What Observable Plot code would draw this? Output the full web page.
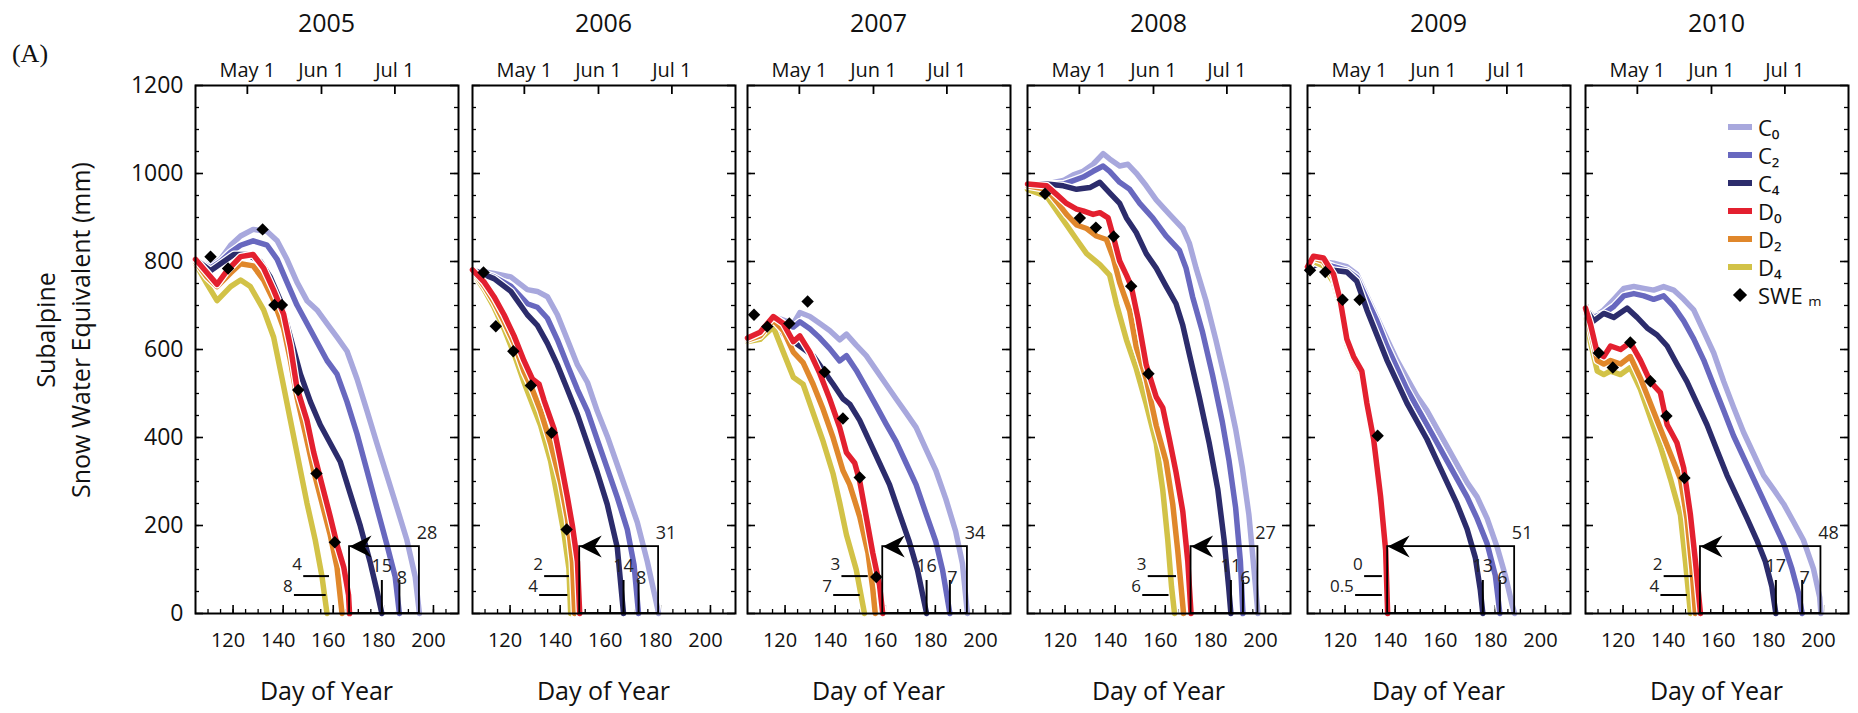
<!DOCTYPE html>
<html><head><meta charset="utf-8">
<script src="https://cdn.jsdelivr.net/npm/d3@7"></script>
<script src="https://cdn.jsdelivr.net/npm/@observablehq/plot@0.6"></script>
<style>
body{margin:0;background:#fff;}
#root{position:relative;width:1858px;height:713px;overflow:hidden;font-family:"Open Sans",sans-serif;color:#111;}
.abs{position:absolute;white-space:nowrap;transform:translate(-50%,-50%);line-height:1;}
.panel{position:absolute;}
.lg{position:absolute;white-space:nowrap;line-height:22px;height:22px;font-size:22px;font-family:"Open Sans","DejaVu Sans",sans-serif;}
</style></head><body><div id="root"></div>
<script>
// ---------------- DATA ----------------
const years = [2005, 2006, 2007, 2008, 2009, 2010];
const seriesNames = ["C₀", "C₂", "C₄", "D₀", "D₂", "D₄"];
const seriesColors = ["#a8a8dd", "#6868bf", "#2c2c6c", "#e3202f", "#e0872b", "#d2c247"];
const drawOrder = [0, 1, 2, 5, 4, 3];
const yTickValues = [0, 200, 400, 600, 800, 1000, 1200];
const xTickValues = [120, 140, 160, 180, 200];
const monthTickDoy = [125.7, 155.3, 184.6];
const monthTickLabels = ["May 1", "Jun 1", "Jul 1"];

// flat [doy, swe, doy, swe, ...]
const C0_2005 = [105,805,111,790,115,805,119,837,123,858,128,873,133.6,868,137.6,847,141.5,805,145.5,753,149.5,711,153.5,690,157.5,659,161.5,628,165.5,596,169.5,533,173.5,460,177.4,387,181.4,314,185.4,241,189.4,167,192.7,84,194.4,0];
const C2_2005 = [105,805,111,785,115,800,119,821,123,837,128,847,133.6,837,137.6,805,141.5,753,145.5,701,149.5,659,153.5,617,157.5,575,161.5,544,165.5,481,169.5,408,173.5,324,177.4,241,181.4,157,184.7,84,186.4,0];
const C4_2005 = [105,805,111,779,115,795,120.3,816,125.6,816,130.9,800,134.9,764,138.9,711,142.9,628,146.9,544,150.9,481,154.8,429,158.8,387,162.8,345,166.8,272,170.8,199,174.8,115,177.5,50,179.4,0];
const D0_2005 = [105,805,109.7,774,113.6,748,117.6,779,123,811,128,816,132.2,785,136.2,735,140.2,680,142.9,607,145.5,513,149.5,439,152.2,366,155.5,293,158.8,220,161.5,157,164.2,105,166.1,42,166.5,0];
const D2_2005 = [105,800,109.7,764,113.6,743,119,774,123,795,128,790,132.2,758,136.2,711,140.2,648,142.9,575,145.5,492,148.9,408,152.2,324,155.5,251,158.8,178,161.5,105,163.5,0];
const D4_2005 = [105,795,109.7,748,113.6,711,119,743,123,758,126.9,743,132.2,690,136.2,628,139.6,533,142.9,439,146.2,345,149.5,251,152.8,167,155.5,84,157.5,0];
const SWEm_2005 = [111,811,118,784,131.8,873,136.5,701,139.5,701,146,508,153.3,318,160.6,162];

const C0_2006 = [105,781,113.6,773,120.3,765,126.9,736,130.9,732,134.9,720,138.9,679,142.9,622,146.9,565,150.9,525,154.8,460,158.8,403,162.8,338,166.8,273,170.8,207,174.8,118,178,35,179.3,0];
const C2_2006 = [105,781,113.6,765,120.3,744,126.9,704,130.9,696,134.9,671,138.9,622,142.9,565,146.9,509,150.9,460,154.8,395,158.8,330,162.8,264,166.8,191,169.5,110,171.3,0];
const C4_2006 = [105,781,113.6,761,120.3,732,126.9,679,130.9,655,134.9,614,138.9,565,142.9,509,146.9,452,150.9,386,154.8,321,158.8,248,162.8,150,165.3,0];
const D0_2006 = [105,781,109.7,753,113.6,720,117.6,679,121.6,631,125.6,574,128.9,533,131.6,521,133.6,484,137.6,419,140.2,346,142.9,264,144.9,199,146.9,118,147.8,0];
const D2_2006 = [105,781,109.7,744,113.6,708,117.6,663,121.6,614,125.6,549,128.9,509,132.2,460,136.2,386,140.2,297,142.9,216,144.9,118,145.8,0];
const D4_2006 = [105,777,109.7,736,113.6,696,117.6,647,121.6,590,125.6,525,128.9,476,132.2,427,136.2,346,138.9,264,141.5,183,143.5,102,144.2,0];
const SWEm_2006 = [109.4,775,114.3,653,121.3,596,128.3,518,136.6,411,142.6,191];

const C0_2007 = [105,626,110,631,115.3,675,119.3,667,123.3,659,125.9,684,129.9,675,133.9,659,137.8,643,141.8,622,144.5,635,148.4,610,152.4,586,156.4,553,160.3,521,164.3,488,168.3,456,172.3,423,176.2,374,180.2,325,184.2,260,188.1,187,190.8,114,192.8,0];
const C2_2007 = [105,626,110,631,115.3,675,119.3,659,123.3,651,125.9,663,129.9,647,133.9,626,137.8,602,141.8,574,144.5,586,148.4,553,152.4,513,156.4,472,160.3,431,164.3,391,168.3,342,172.3,293,176.2,228,180.2,163,182.9,98,185.8,0];
const C4_2007 = [105,626,110,631,115.3,675,119.3,635,123.3,618,127.2,602,131.2,586,135.2,553,139.2,521,143.1,488,145.8,476,149.8,439,153.7,391,157.7,342,161.7,293,165.6,228,169.6,163,172.9,98,176.5,0];
const D0_2007 = [105,626,110,639,115.3,675,119.3,659,123.3,618,125.9,631,129.9,594,133.9,545,137.8,488,141.8,423,144.5,366,147.8,342,149.8,301,152.4,220,155,138,157.7,65,159,0];
const D2_2007 = [105,622,110,631,115.3,667,119.3,643,123.3,594,127.2,570,131.2,521,135.2,464,139.2,399,143.1,325,145.8,293,149.8,220,153.1,138,155,57,156,0];
const D4_2007 = [105,618,110,623,115.3,651,119.3,594,123.3,537,127.2,521,131.2,456,135.2,391,139.2,317,141.8,252,144.5,179,148.4,100,151.7,0];
const SWEm_2007 = [107.6,679,112.9,652,121.7,659,129,709,135.8,549,143.1,443,149.8,309,156.4,83];

const C0_2008 = [105,976,112.7,976,119.3,984,123.3,997,127.2,1005,131.2,1021,135.2,1045,137.8,1033,141.8,1017,145.1,1021,148.4,1001,152.4,972,156.4,940,161.7,907,167,875,169.6,842,172.3,785,176.2,712,180.2,622,184.2,525,188.1,419,190.8,330,193.4,224,195.4,102,197,0];
const C2_2008 = [105,976,112.7,976,119.3,976,123.3,984,127.2,992,131.2,1005,135.2,1017,137.8,1005,141.8,980,145.8,964,149.8,932,155,899,160.3,858,165.6,826,168.3,785,170.9,720,174.9,639,178.9,541,182.8,435,185.5,346,188.1,240,190,118,191,0];
const C4_2008 = [105,976,112.7,976,119.3,972,124.6,964,129.9,968,133.9,980,137.8,956,141.8,932,144.5,899,148.4,866,152.4,818,156.4,785,160.3,744,164.3,704,167,655,169.6,590,173.6,492,177.6,386,181,281,183.5,167,185.3,61,186.2,0];
const D0_2008 = [105,976,112.7,972,116.7,952,120.6,932,124.6,919,127.2,915,131.2,907,133.9,911,137.2,899,139.2,858,141.8,801,144.5,769,146.4,744,149.1,671,152.4,565,156.4,492,159,468,161.7,395,164.3,321,167,232,169,118,170.3,0];
const D2_2008 = [105,972,112.7,964,116.7,936,120.6,907,124.6,883,128.6,875,132.5,858,136.5,850,139.2,809,141.8,752,145.8,688,148.4,606,152.4,533,156.4,427,160.3,346,163,248,165,142,167.3,0];
const D4_2008 = [105,964,112.7,948,116.7,915,120.6,883,124.6,850,128.6,818,133.9,793,137.8,769,140.5,704,144.5,622,148.4,557,152.4,476,156.4,386,159,281,161,167,162.5,61,163.7,0];
const SWEm_2008 = [112,954,125.9,899,132.3,877,139.4,857,146.4,744,153.3,545];

const C0_2009 = [105,784,110,800,115.4,796,120.7,788,124.7,771,128.7,722,132.7,673,136.7,624,140.7,576,144.7,535,148.7,494,152.7,461,156.7,420,160.7,380,164.7,339,168.7,298,172.7,265,176.7,216,180.7,151,184,86,186.7,20,187.7,0];
const C2_2009 = [105,784,110,800,115.4,788,120.7,780,124.7,763,128.7,714,132.7,665,136.7,608,140.7,559,144.7,510,148.7,469,152.7,429,156.7,388,160.7,347,164.7,306,168.7,265,172.7,216,176.7,159,180,86,181.8,0];
const C4_2009 = [105,784,110,796,115.4,780,120.7,776,124.7,755,128.7,690,132.7,633,136.7,576,140.7,527,144.7,478,148.7,437,152.7,396,156.7,347,160.7,298,164.7,249,168.7,192,172,127,174,53,175,0];
const D0_2009 = [105,788,107.4,812,111.4,808,115.4,771,118,714,120.7,624,123.4,584,126.7,551,128.7,478,131.4,396,134.2,265,136.2,143,137,0];
const D2_2009 = [105,786,107.4,808,111.4,800,115.4,763,118,706,120.7,620,123.4,580,126.7,547,128.7,474,131.4,392,134.2,260,136.2,140,137,0];
const D4_2009 = [105,784,107.4,800,111.4,790,115.4,752,118,700,120.7,612,123.4,575,126.7,541,128.7,470,131.4,388,134.2,255,136,140,136.8,0];
const SWEm_2009 = [106,780,112.1,776,119,713,125.8,713,133,404];

const C0_2010 = [105,694,108.3,673,112.3,690,116.3,714,120.3,739,124.3,743,128.3,739,132.2,735,136.2,743,140.2,735,144.2,714,148.2,690,152.2,641,156.2,592,160.2,527,164.1,469,168.1,412,172.1,363,176.1,314,180.1,282,184.1,249,188.1,208,192,167,196,102,198.5,37,199,0];
const C2_2010 = [105,694,108.3,673,112.3,682,116.3,698,120.3,722,124.3,727,128.3,722,132.2,714,136.2,722,140.2,698,144.2,665,148.2,624,152.2,576,156.2,518,160.2,461,164.1,404,168.1,355,172.1,306,176.1,257,180.1,208,184.1,159,187.4,102,190.1,45,191.5,0];
const C4_2010 = [105,694,108.3,665,112.3,682,116.3,673,121.6,694,125.6,673,129.6,649,133.6,633,137.6,608,141.5,567,145.5,527,149.5,478,153.5,429,157.5,371,161.5,314,165.5,265,169.5,216,173.4,167,176.8,118,179.4,61,181,0];
const D0_2010 = [105,694,107,657,109.7,592,112.3,584,115,608,119,600,122.9,616,126.9,576,130.9,527,134.9,502,137.6,429,141.5,388,144.2,331,146.9,224,148.9,118,150.9,0];
const D2_2010 = [105,690,107,641,109.7,575,112.3,567,115,575,119,567,122.9,584,126.9,535,130.9,478,134.9,420,138.9,363,142.9,306,145.5,216,147.5,102,148.9,0];
const D4_2010 = [105,682,107,616,109.7,551,112.3,543,115,551,119,543,122.9,559,126.9,510,130.9,445,134.9,380,138.9,306,142.9,224,144.9,118,146.9,0];
const SWEm_2010 = [110.3,592,115.9,559,122.9,616,130.9,528,137.3,449,144.5,308];

// annotation values (day of year)
const meltD0 = [166.5, 147.8, 159, 170.3, 137, 150.9];
const meltC0 = [194.4, 179.3, 192.8, 197, 187.7, 199];
const meltC4 = [179.4, 165.3, 176.5, 186.2, 175, 181];
const meltC2 = [186.4, 171.3, 185.8, 191, 181.8, 191.5];
const boxLabels = ["28", "31", "34", "27", "51", "48"];
const c4Labels = ["15", "14", "16", "11", "13", "17"];
const c2Labels = ["8", "8", "7", "6", "6", "7"];
const barLabelsTop = ["4", "2", "3", "3", "0", "2"];
const barLabelsLow = ["8", "4", "7", "6", "0.5", "4"];
const barTopStart = [148, 133.6, 142.5, 153, 127.6, 136.2];
const barTopEnd = [158.3, 143.5, 153, 164.3, 134.7, 147.5];
const barLowStart = [144.3, 131.6, 139.2, 150.8, 124, 134.9];
const barLowEnd = [157, 142.9, 149.8, 161.3, 134.7, 145.5];

// ---------------- BUILD ----------------
const seriesByYear = [
  [C0_2005, C2_2005, C4_2005, D0_2005, D2_2005, D4_2005],
  [C0_2006, C2_2006, C4_2006, D0_2006, D2_2006, D4_2006],
  [C0_2007, C2_2007, C4_2007, D0_2007, D2_2007, D4_2007],
  [C0_2008, C2_2008, C4_2008, D0_2008, D2_2008, D4_2008],
  [C0_2009, C2_2009, C4_2009, D0_2009, D2_2009, D4_2009],
  [C0_2010, C2_2010, C4_2010, D0_2010, D2_2010, D4_2010]
];
const sweByYear = [SWEm_2005, SWEm_2006, SWEm_2007, SWEm_2008, SWEm_2009, SWEm_2010];
const pairs = (flat) => { const out = []; for (let k = 0; k < flat.length; k += 2) out.push({doy: flat[k], swe: flat[k + 1]}); return out; };

const W = 263, H = 528;
const frameLefts = [195, 472, 747, 1027, 1307, 1585];
const frameTop = 85;
const root = document.getElementById("root");

const yMinor = d3.range(50, 1200, 50);
const xMinor = d3.range(110, 210, 5);
const monthMap = new Map(monthTickDoy.map((d, i) => [d, monthTickLabels[i]]));

const arrowSym = {draw(ctx) { ctx.moveTo(0, 0); ctx.lineTo(22, -11); ctx.lineTo(15, 0); ctx.lineTo(22, 11); ctx.closePath(); }};

function addText(txt, x, y, style) {
  const d = document.createElement("div");
  d.className = "abs";
  d.style.left = x + "px"; d.style.top = y + "px";
  Object.assign(d.style, style || {});
  d.textContent = txt;
  root.appendChild(d);
  return d;
}

years.forEach((yr, i) => {
  const ml = i === 0 ? 120 : 8, mr = 8, mt = 50, mb = 50;
  const marks = [];
  // inner frame ticks
  marks.push(Plot.tickY(yMinor, {y: d => d, insetRight: W - 4, stroke: "#000", strokeWidth: 1.3}));
  marks.push(Plot.tickY(yMinor, {y: d => d, insetLeft: W - 4, stroke: "#000", strokeWidth: 1.3}));
  marks.push(Plot.tickY(yTickValues, {y: d => d, insetRight: W - 8, stroke: "#000", strokeWidth: 1.6}));
  marks.push(Plot.tickY(yTickValues, {y: d => d, insetLeft: W - 8, stroke: "#000", strokeWidth: 1.6}));
  marks.push(Plot.tickX(xMinor, {x: d => d, insetTop: H - 4, stroke: "#000", strokeWidth: 1.3}));
  marks.push(Plot.tickX(xTickValues, {x: d => d, insetTop: H - 8, stroke: "#000", strokeWidth: 1.6}));
  marks.push(Plot.tickX(monthTickDoy, {x: d => d, insetBottom: H - 9, stroke: "#000", strokeWidth: 1.8}));
  // series with white halo (D0 drawn last, on top)
  drawOrder.forEach(s => {
    const data = pairs(seriesByYear[i][s]);
    marks.push(Plot.line(data, {x: "doy", y: "swe", stroke: "#fff", strokeWidth: 8, strokeLinejoin: "round"}));
    marks.push(Plot.line(data, {x: "doy", y: "swe", stroke: seriesColors[s], strokeWidth: 5.5, strokeLinejoin: "round"}));
  });
  // measured SWE
  marks.push(Plot.dot(pairs(sweByYear[i]), {x: "doy", y: "swe", symbol: "diamond2", r: 5.6, fill: "#000", stroke: "none"}));
  // annotations
  const boxTop = 152;
  marks.push(Plot.rect([{a: meltD0[i], b: meltC0[i]}], {x1: "a", x2: "b", y1: 0, y2: boxTop, fill: "none", stroke: "#000", strokeWidth: 1.8}));
  marks.push(Plot.dot([{x: meltD0[i], y: boxTop}], {x: "x", y: "y", symbol: arrowSym, r: 5, fill: "#000", stroke: "none"}));
  marks.push(Plot.ruleX([meltC4[i], meltC2[i]], {x: d => d, y1: 0, y2: 75, stroke: "#000", strokeWidth: 2}));
  marks.push(Plot.link([
      {a: barTopStart[i], b: barTopEnd[i], y: 85},
      {a: barLowStart[i], b: barLowEnd[i], y: 42}
    ], {x1: "a", x2: "b", y1: "y", y2: "y", stroke: "#000", strokeWidth: 2}));
  const txt = [
    {x: meltC0[i] + 3, y: 183, t: boxLabels[i], a: "middle"},
    {x: meltC4[i], y: 108, t: c4Labels[i], a: "middle"},
    {x: meltC2[i] + 1, y: 80, t: c2Labels[i], a: "middle"},
    {x: barTopStart[i] - 0.5, y: 112, t: barLabelsTop[i], a: "end"},
    {x: barLowStart[i] - 0.5, y: 62, t: barLabelsLow[i], a: "end"}
  ];
  marks.push(Plot.text(txt.filter(d => d.a === "middle"), {x: "x", y: "y", text: "t", fontSize: 18, fill: "#222", textAnchor: "middle"}));
  marks.push(Plot.text(txt.filter(d => d.a === "end"), {x: "x", y: "y", text: "t", fontSize: 17, fill: "#222", textAnchor: "end"}));
  // axes
  marks.push(Plot.axisX({anchor: "bottom", ticks: xTickValues, tickSize: 0, tickPadding: 19, fontSize: 20, dx: -5, label: null, tickFormat: d => String(d)}));
  marks.push(Plot.axisX({anchor: "top", ticks: monthTickDoy, tickSize: 0, tickPadding: 9, fontSize: 20, label: null, tickFormat: d => monthMap.get(d)}));
  if (i === 0) marks.push(Plot.axisY({anchor: "left", ticks: yTickValues, tickSize: 0, tickPadding: 12, fontSize: 23, label: null, tickFormat: d => String(d)}));
  marks.push(Plot.frame({stroke: "#000", strokeWidth: 2}));

  const chart = Plot.plot({
    width: ml + W + mr, height: mt + H + mb,
    marginLeft: ml, marginRight: mr, marginTop: mt, marginBottom: mb,
    x: {domain: [105, 210], axis: null},
    y: {domain: [0, 1200], axis: null},
    style: {background: "transparent", fontFamily: "'Open Sans', sans-serif", color: "#111", overflow: "visible"},
    marks
  });
  const wrap = document.createElement("div");
  wrap.className = "panel";
  wrap.style.left = (frameLefts[i] - ml) + "px";
  wrap.style.top = (frameTop - mt) + "px";
  wrap.appendChild(chart);
  root.appendChild(wrap);

  // panel titles
  addText(String(yr), frameLefts[i] + W / 2, 22, {fontSize: "25px"});
  addText("Day of Year", frameLefts[i] + W / 2, 690, {fontSize: "25px"});
});

addText("(A)", 30, 54, {fontSize: "26px", fontFamily: "'Liberation Serif', serif"});
addText("Subalpine", 45, 330, {fontSize: "25px", transform: "translate(-50%,-50%) rotate(-90deg)"});
addText("Snow Water Equivalent (mm)", 80, 330, {fontSize: "25px", transform: "translate(-50%,-50%) rotate(-90deg)"});

// legend (inside 2010 panel)
seriesNames.forEach((name, k) => {
  const y = 127 + 28 * k;
  const sw = document.createElement("div");
  sw.style.cssText = `position:absolute;left:1728px;top:${y - 3}px;width:24px;height:6px;background:${seriesColors[k]};`;
  root.appendChild(sw);
  const t = document.createElement("div");
  t.className = "lg";
  t.style.left = "1758px"; t.style.top = (y - 11) + "px";
  t.textContent = name;
  root.appendChild(t);
});
{
  const y = 127 + 28 * 6;
  const dm = document.createElement("div");
  dm.style.cssText = `position:absolute;left:${1740 - 5}px;top:${y - 5}px;width:10px;height:10px;background:#000;transform:rotate(45deg);`;
  root.appendChild(dm);
  const t = document.createElement("div");
  t.className = "lg";
  t.style.left = "1758px"; t.style.top = (y - 11) + "px";
  t.textContent = "SWE ₘ";
  root.appendChild(t);
}
</script></body></html>
